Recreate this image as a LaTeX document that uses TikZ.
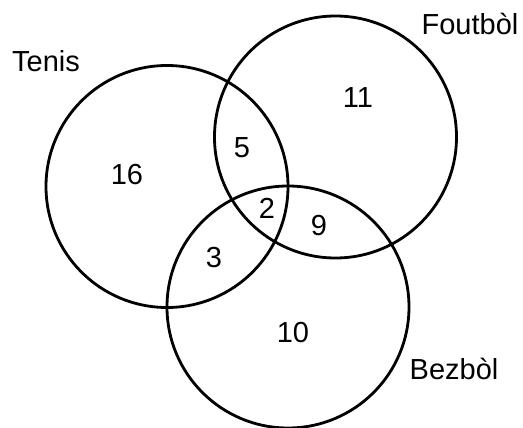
\documentclass[tikz,border=0pt]{standalone}
\usepackage{fontspec}
\setmainfont{Liberation Sans}
\usepackage{tikz}
\usetikzlibrary{positioning}
\tikzset{
  venn/.style={circle, draw=black, line width=2.8pt, minimum size=242pt, inner sep=0pt},
  setlabel/.style={inner sep=0pt, font=\fontsize{29}{32}\selectfont},
  count/.style={inner sep=0pt, font=\fontsize{29}{32}\selectfont}
}

\begin{document}
\begin{tikzpicture}[x=1pt, y=-1pt]
  \useasboundingbox (0,0) rectangle (523,428);

  % the three sets
  \node[venn] (tenis) at (167,186.5) {};
  \node[venn] (foutbol) at (335.5,137) {};
  \node[venn] (bezbol) at (288,307) {};

  \node[setlabel] (tenislbl) at (46,61) {Tenis};
  \node[setlabel] (foutbollbl) at (470,24) {Foutbòl};
  \node[setlabel] (bezbollbl) at (454,369) {Bezbòl};

  % counts in each region
  \node[count] (ntenis) at (127,175) {16};
  \node[count] (nfoutbol) at (358,98) {11};
  \node[count] (nbezbol) at (293,333) {10};
  \node[count] (ntf) at (242,148) {5};
  \node[count] (ntb) at (214,258) {3};
  \node[count] (nfb) at (319,226) {9};
  \node[count] (nall) at (267,208) {2};
\end{tikzpicture}
\end{document}
